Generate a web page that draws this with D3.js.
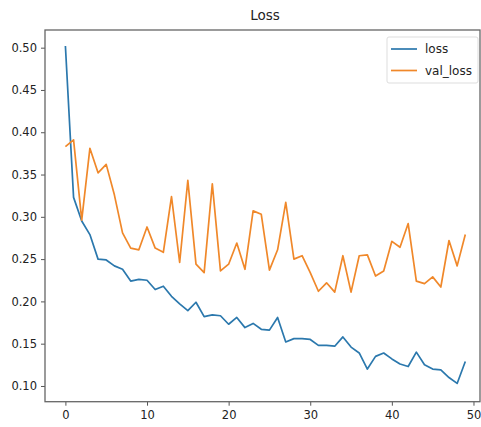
<!DOCTYPE html>
<html>
<head>
<meta charset="utf-8">
<script src="https://cdn.jsdelivr.net/npm/d3@7"></script>
<style>
  body { margin: 0; background: #fff; }
  text { font-family: "DejaVu Sans", sans-serif; fill: #222; }
</style>
</head>
<body>
<svg id="chart" width="481" height="427"></svg>
<script>
// epochs 0..49
var epochs = d3.range(50)

var loss = [0.502, 0.323, 0.295, 0.279, 0.250, 0.249, 0.242, 0.238, 0.224, 0.226,
            0.225, 0.214, 0.218, 0.206, 0.197, 0.189, 0.199, 0.182, 0.184, 0.183,
            0.173, 0.181, 0.169, 0.174, 0.167, 0.166, 0.181, 0.152, 0.156, 0.156,
            0.155, 0.148, 0.148, 0.147, 0.158, 0.146, 0.139, 0.120, 0.135, 0.139,
            0.132, 0.126, 0.123, 0.140, 0.125, 0.120, 0.119, 0.110, 0.103, 0.129]

var valLoss = [0.383, 0.391, 0.296, 0.381, 0.352, 0.362, 0.326, 0.281, 0.263, 0.261,
               0.288, 0.263, 0.258, 0.324, 0.246, 0.343, 0.244, 0.234, 0.339, 0.236,
               0.244, 0.269, 0.238, 0.307, 0.303, 0.237, 0.261, 0.317, 0.250, 0.254,
               0.234, 0.212, 0.222, 0.211, 0.254, 0.211, 0.254, 0.255, 0.230, 0.236,
               0.271, 0.264, 0.292, 0.224, 0.221, 0.229, 0.217, 0.272, 0.242, 0.279]

var xTicks = [0, 10, 20, 30, 40, 50]
var yTicks = [0.10, 0.15, 0.20, 0.25, 0.30, 0.35, 0.40, 0.45, 0.50]

var seriesNames = ["loss", "val_loss"]
var seriesColors = ["#2b78ad", "#f0882a"]

var svg = d3.select("#chart")

// plot frame in pixels
var plotLeft = 45, plotRight = 480, plotTop = 30, plotBottom = 401.7

var x = d3.scaleLinear().domain([-2.5, 50.8]).range([plotLeft, plotRight])
var y = d3.scaleLinear().domain([0.0814, 0.5209]).range([plotBottom, plotTop])

// title
svg.append("text")
    .attr("x", 265)
    .attr("y", 20)
    .attr("text-anchor", "middle")
    .style("font-size", "13.5px")
    .text("Loss")

// lines
var line = d3.line()
    .x(function(d) { return x(d[0]) })
    .y(function(d) { return y(d[1]) })

var allSeries = [loss, valLoss]
allSeries.forEach(function(vals, i) {
    svg.append("path")
        .datum(epochs.map(function(e) { return [e, vals[e]] }))
        .attr("fill", "none")
        .attr("stroke", seriesColors[i])
        .attr("stroke-width", 1.7)
        .attr("stroke-linejoin", "round")
        .attr("d", line)
})

// axes
var xAxis = svg.append("g")
    .attr("transform", "translate(0," + plotBottom + ")")
    .call(d3.axisBottom(x).tickValues(xTicks).tickFormat(d3.format("d")).tickSize(4).tickPadding(5))
var yAxis = svg.append("g")
    .attr("transform", "translate(" + plotLeft + ",0)")
    .call(d3.axisLeft(y).tickValues(yTicks).tickFormat(d3.format(".2f")).tickSize(4).tickPadding(4))

;[xAxis, yAxis].forEach(function(g) {
    g.select(".domain").remove()
    g.selectAll("line").attr("stroke", "#555")
    g.selectAll("text").style("font-size", "11.5px").attr("fill", "#222")
})

// frame
svg.append("rect")
    .attr("x", plotLeft)
    .attr("y", plotTop)
    .attr("width", plotRight - plotLeft)
    .attr("height", plotBottom - plotTop)
    .attr("fill", "none")
    .attr("stroke", "#666")
    .attr("stroke-width", 1.3)

// legend
var legend = svg.append("g").attr("transform", "translate(387,37)")
legend.append("rect")
    .attr("width", 91)
    .attr("height", 46)
    .attr("rx", 2)
    .attr("fill", "#fff")
    .attr("stroke", "#ddd")

seriesNames.forEach(function(name, i) {
    var ly = 12 + i * 21.5
    legend.append("line")
        .attr("x1", 4).attr("x2", 30)
        .attr("y1", ly).attr("y2", ly)
        .attr("stroke", seriesColors[i])
        .attr("stroke-width", 1.7)
    legend.append("text")
        .attr("x", 38)
        .attr("y", ly + 4)
        .style("font-size", "12px")
        .text(name)
})
</script>
</body>
</html>
